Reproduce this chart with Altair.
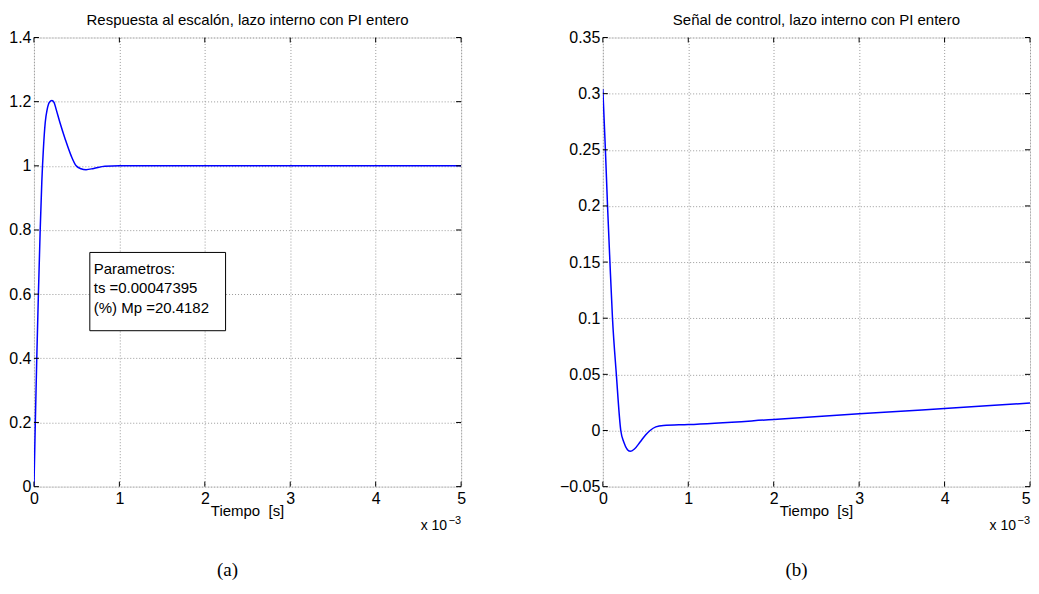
import altair as alt
import pandas as pd

# ---------------- data (time in ms, axis shows x 10^-3 s) ----------------
t_step = [0, 0.016, 0.033, 0.052, 0.073, 0.092, 0.11, 0.132, 0.155, 0.18, 0.21,
          0.235, 0.26, 0.304, 0.366, 0.436, 0.494, 0.55, 0.61, 0.7, 0.83, 1.0,
          2.0, 3.0, 4.0, 5.0]
y_step = [0, 0.2, 0.4, 0.6, 0.8, 0.95, 1.05, 1.135, 1.176, 1.198, 1.204,
          1.198, 1.176, 1.135, 1.083, 1.031, 1.0, 0.991, 0.988, 0.992, 0.999, 1.0,
          1.0, 1.0, 1.0, 1.0]

t_ctrl = [0, 0.03, 0.055, 0.083, 0.113, 0.158, 0.21, 0.245, 0.319, 0.37, 0.436,
          0.5, 0.553, 0.62, 0.709, 1.0, 2.0, 3.0, 4.0, 5.0]
u_ctrl = [0.304, 0.25, 0.2, 0.15, 0.1, 0.05, 0.0, -0.0103, -0.0186, -0.0165, -0.0103,
          -0.004, 0.0, 0.0032, 0.0045, 0.0053, 0.0098, 0.0148, 0.0196, 0.0244]

x_ticks = [0, 1, 2, 3, 4, 5]
y_ticks_step = [0, 0.2, 0.4, 0.6, 0.8, 1.0, 1.2, 1.4]
y_ticks_ctrl = [-0.05, 0, 0.05, 0.1, 0.15, 0.2, 0.25, 0.3, 0.35]

titles = ["Respuesta al escalón, lazo interno con PI entero",
          "Señal de control, lazo interno con PI entero"]
captions = ["(a)", "(b)"]
x_label = "Tiempo\u00a0\u00a0[s]"
exp_base = "x 10"
exp_pow = "\u22123"

box_lines = ["Parametros:", "ts =0.00047395", "(%) Mp =20.4182"]
box_line_y = [0.678, 0.618, 0.557]
box_text_x = 0.70
box_x = [0.654, 2.243]
box_y = [0.486, 0.730]

W, H = 428, 450
FONT = "Liberation Sans"
FS = 15
TFS = 16


def panel(t, v, ydom, yticks, title, caption, box=False, last_right=False):
    df = pd.DataFrame({"t": t, "v": v})
    xs = alt.Scale(domain=[0, 5], nice=False, zero=False)
    ys = alt.Scale(domain=ydom, nice=False, zero=False)
    common = dict(format="~g", grid=True, ticks=False, domain=False,
                  labelFont=FONT, labelFontSize=TFS, labelColor="black",
                  gridColor="#9a9a9a", gridDash=[1, 2], gridWidth=1,
                  title=None)
    xextra = {}
    if last_right:
        xextra["labelAlign"] = {"condition": {"test": "datum.value == 5", "value": "right"},
                                "value": "center"}
    xax = alt.Axis(values=x_ticks, labelPadding=4, labelFlush=False, **xextra, **common)
    yax = alt.Axis(values=yticks, labelPadding=3, **common)

    line = alt.Chart(df).mark_line(color="#0000ff", strokeWidth=1.5,
                                   interpolate="monotone", clip=True).encode(
        x=alt.X("t:Q", scale=xs, axis=xax),
        y=alt.Y("v:Q", scale=ys, axis=yax),
    )

    xt = pd.DataFrame({"x": x_ticks})
    yt = pd.DataFrame({"y": yticks})
    tick_bottom = alt.Chart(xt).mark_rule(color="black").encode(
        x=alt.X("x:Q", scale=xs, axis=xax), y=alt.value(H), y2=alt.value(H - 5))
    tick_top = alt.Chart(xt).mark_rule(color="black").encode(
        x=alt.X("x:Q", scale=xs, axis=xax), y=alt.value(0), y2=alt.value(5))
    tick_left = alt.Chart(yt).mark_rule(color="black").encode(
        y=alt.Y("y:Q", scale=ys, axis=yax), x=alt.value(0), x2=alt.value(5))
    tick_right = alt.Chart(yt).mark_rule(color="black").encode(
        y=alt.Y("y:Q", scale=ys, axis=yax), x=alt.value(W), x2=alt.value(W - 5))

    one = pd.DataFrame({"s": [x_label], "e": [exp_base], "p": [exp_pow],
                        "c": [caption], "h": [title]})
    ttl = alt.Chart(one).mark_text(font=FONT, fontSize=FS, align="center",
                                   baseline="alphabetic", color="black").encode(
        text="h:N", x=alt.value(W / 2), y=alt.value(-13))
    xlab = alt.Chart(one).mark_text(font=FONT, fontSize=FS, align="center",
                                    baseline="alphabetic", color="black").encode(
        text="s:N", x=alt.value(W / 2), y=alt.value(H + 29))
    expb = alt.Chart(one).mark_text(font=FONT, fontSize=FS - 1, align="right",
                                    baseline="alphabetic", color="black").encode(
        text="e:N", x=alt.value(W - 14), y=alt.value(H + 43))
    expp = alt.Chart(one).mark_text(font=FONT, fontSize=11, align="left",
                                    baseline="alphabetic", color="black").encode(
        text="p:N", x=alt.value(W - 12.5), y=alt.value(H + 37))
    cap = alt.Chart(one).mark_text(font="Liberation Serif", fontSize=19, align="center",
                                   baseline="middle", color="black").encode(
        text="c:N", x=alt.value(194), y=alt.value(H + 84))

    layers = [line, tick_bottom, tick_top, tick_left, tick_right, ttl, xlab, expb, expp, cap]

    if box:
        bdf = pd.DataFrame({"x0": [box_x[0]], "x1": [box_x[1]],
                            "y0": [box_y[0]], "y1": [box_y[1]]})
        rect = alt.Chart(bdf).mark_rect(fill="white", stroke="black", strokeWidth=1).encode(
            x=alt.X("x0:Q", scale=xs, axis=xax), x2="x1:Q",
            y=alt.Y("y0:Q", scale=ys, axis=yax), y2="y1:Q")
        tdf = pd.DataFrame({"s": box_lines, "x": [box_text_x] * 3, "y": box_line_y})
        txt = alt.Chart(tdf).mark_text(font=FONT, fontSize=FS, align="left",
                                       baseline="middle", color="black").encode(
            text="s:N", x=alt.X("x:Q", scale=xs, axis=xax),
            y=alt.Y("y:Q", scale=ys, axis=yax))
        layers += [rect, txt]

    return alt.layer(*layers).properties(width=W, height=H)


left = panel(t_step, y_step, [0, 1.4], y_ticks_step, titles[0], captions[0], box=True)
right = panel(t_ctrl, u_ctrl, [-0.05, 0.35], y_ticks_ctrl, titles[1], captions[1],
              last_right=True)

chart = alt.hconcat(left, right, spacing=93).properties(
    padding={"left": 0, "top": 3, "right": 0, "bottom": 0}
).configure_view(stroke="black", strokeWidth=1).configure(background="white")

chart.save("out.html", embed_options={"renderer": "svg", "actions": False})
